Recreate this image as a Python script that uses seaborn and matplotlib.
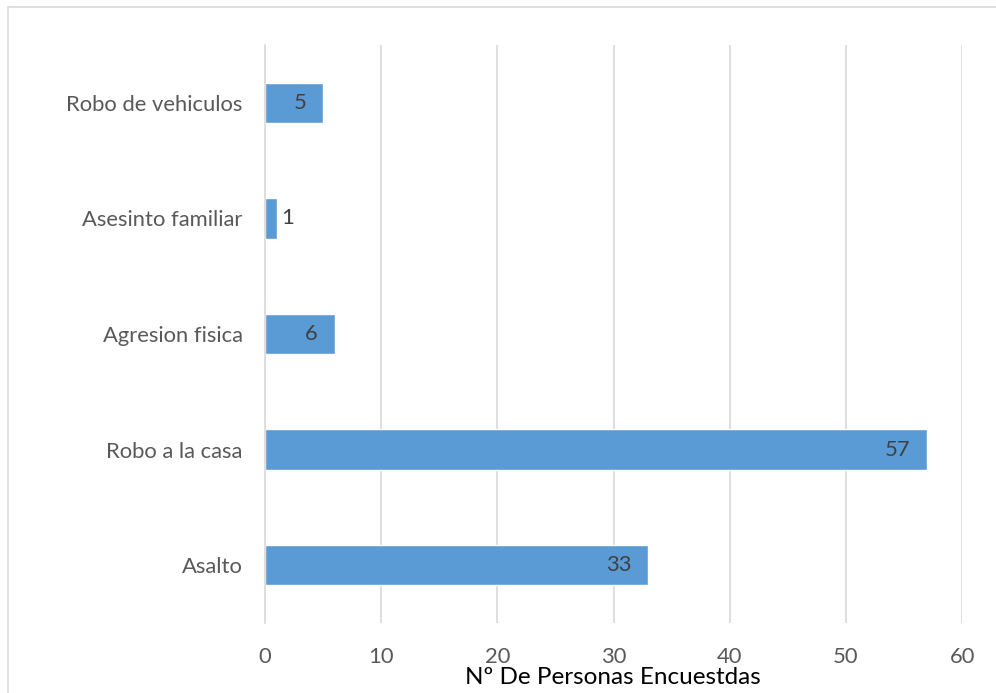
import matplotlib
matplotlib.use("Agg")
import matplotlib.pyplot as plt
import seaborn as sns
import pandas as pd
from matplotlib.patches import Rectangle

# Datos
categorias = ["Robo de vehiculos", "Asesinto familiar", "Agresion fisica",
              "Robo a la casa", "Asalto"]
personas = [5, 1, 6, 57, 33]

df = pd.DataFrame({"categoria": categorias, "personas": personas})

sns.set_style("white")
plt.rcParams["font.family"] = ["Lato", "DejaVu Sans"]

fig = plt.figure(figsize=(9.96, 6.93), dpi=100)
ax = fig.add_axes([0.266, 0.101, 0.700, 0.834])

sns.barplot(data=df, x="personas", y="categoria", order=categorias,
            color="#5B9BD5", saturation=1, width=0.35, ax=ax)

ax.set_xlim(0, 60)
ax.set_ylim(4.5, -0.5)
ax.set_xticks(range(0, 61, 10))
ax.xaxis.grid(True, color="#D9D9D9", linewidth=1.2)
ax.set_axisbelow(True)

# ticks entre categorías
ax.set_yticks([i - 0.5 for i in range(len(categorias) + 1)], minor=True)
ax.tick_params(axis="y", which="minor", length=7, color="#D9D9D9", width=1.2)
ax.tick_params(axis="y", which="major", length=0, pad=16, labelsize=15.8,
               labelcolor="#595959")
ax.tick_params(axis="x", length=0, pad=17, labelsize=15.8, labelcolor="#595959")

for lado in ["top", "right", "bottom"]:
    ax.spines[lado].set_visible(False)
ax.spines["left"].set_color("#D9D9D9")
ax.spines["left"].set_linewidth(1.2)

ax.set_ylabel("")
ax.set_xlabel("")

# etiquetas de valores
for i, v in enumerate(personas):
    if v >= 3:
        ax.text(v - 1.45, i, str(v), ha="right", va="center",
                fontsize=15.8, color="#404040")
    else:
        ax.text(v + 0.4, i, str(v), ha="left", va="center",
                fontsize=15.8, color="#404040")

fig.text(0.615, 0.022, "Nº De Personas Encuestdas", ha="center", va="center",
         fontsize=17.5, color="black")

# borde del gráfico
fig.patches.append(Rectangle((8 / 996, -0.1), 1.2, 1.1 - 6.5 / 693,
                             transform=fig.transFigure, fill=False,
                             edgecolor="#D9D9D9", linewidth=1.2))

fig.savefig("out.png", dpi=100)
